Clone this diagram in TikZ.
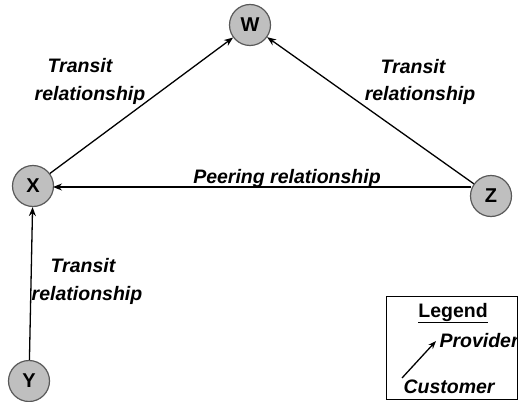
\documentclass[tikz,border=0pt]{standalone}
\usepackage{fontspec}
\setmainfont{Liberation Sans}
\usepackage{tikz}
\usetikzlibrary{arrows.meta}

\tikzset{
    asnode/.style={circle, draw=black!65, line width=1.2pt, fill=black!25, minimum size=41pt, inner sep=0pt, font=\fontsize{20}{20}\selectfont\bfseries},
    rel/.style={font=\fontsize{19.5}{30}\selectfont\bfseries\itshape, align=center},
    link/.style={-{Stealth[length=9pt,width=7pt]}, line width=1.3pt}
}

\begin{document}
\begin{tikzpicture}[x=1pt, y=-1pt]
    \useasboundingbox (0,0) rectangle (518,401);
    \node[asnode] (W) at (250,25) {W};
    \node[asnode] (X) at (33,186) {X};
    \node[asnode] (Z) at (491,196) {Z};
    \node[asnode] (Y) at (29,381) {Y};
    \draw[link] (X)--(W);
    \draw[link] (Z)--(W);
    \coordinate (zw) at (471,187);
    \coordinate (xe) at (53,187);
    \draw[link] (zw)--(xe);
    \draw[link] (Y)--(X);
    \node[rel] (tl1) at (80,66) {Transit};
    \node[rel] (tl2) at (90,95) {relationship};
    \node[rel] (tr1) at (413,67) {Transit};
    \node[rel] (tr2) at (420,95) {relationship};
    \node[rel] (pr) at (287,178) {Peering relationship};
    \node[rel] (tb1) at (83,266) {Transit};
    \node[rel] (tb2) at (87,295) {relationship};
    % legend
    \draw[line width=1pt] (386,296) rectangle (517,399);
    \node[rel, font=\fontsize{19.5}{20}\selectfont\bfseries] (lg) at (453,313) {\underline{Legend}};
    \node[rel, anchor=west] (prov) at (436,341) {Provider};
    \node[rel, anchor=west] (cust) at (400,387) {Customer};
    \coordinate (lc) at (402,378);
    \draw[-{Stealth[length=8pt,width=6pt]}, line width=1.3pt] (lc)--(prov.west);
\end{tikzpicture}
\end{document}
